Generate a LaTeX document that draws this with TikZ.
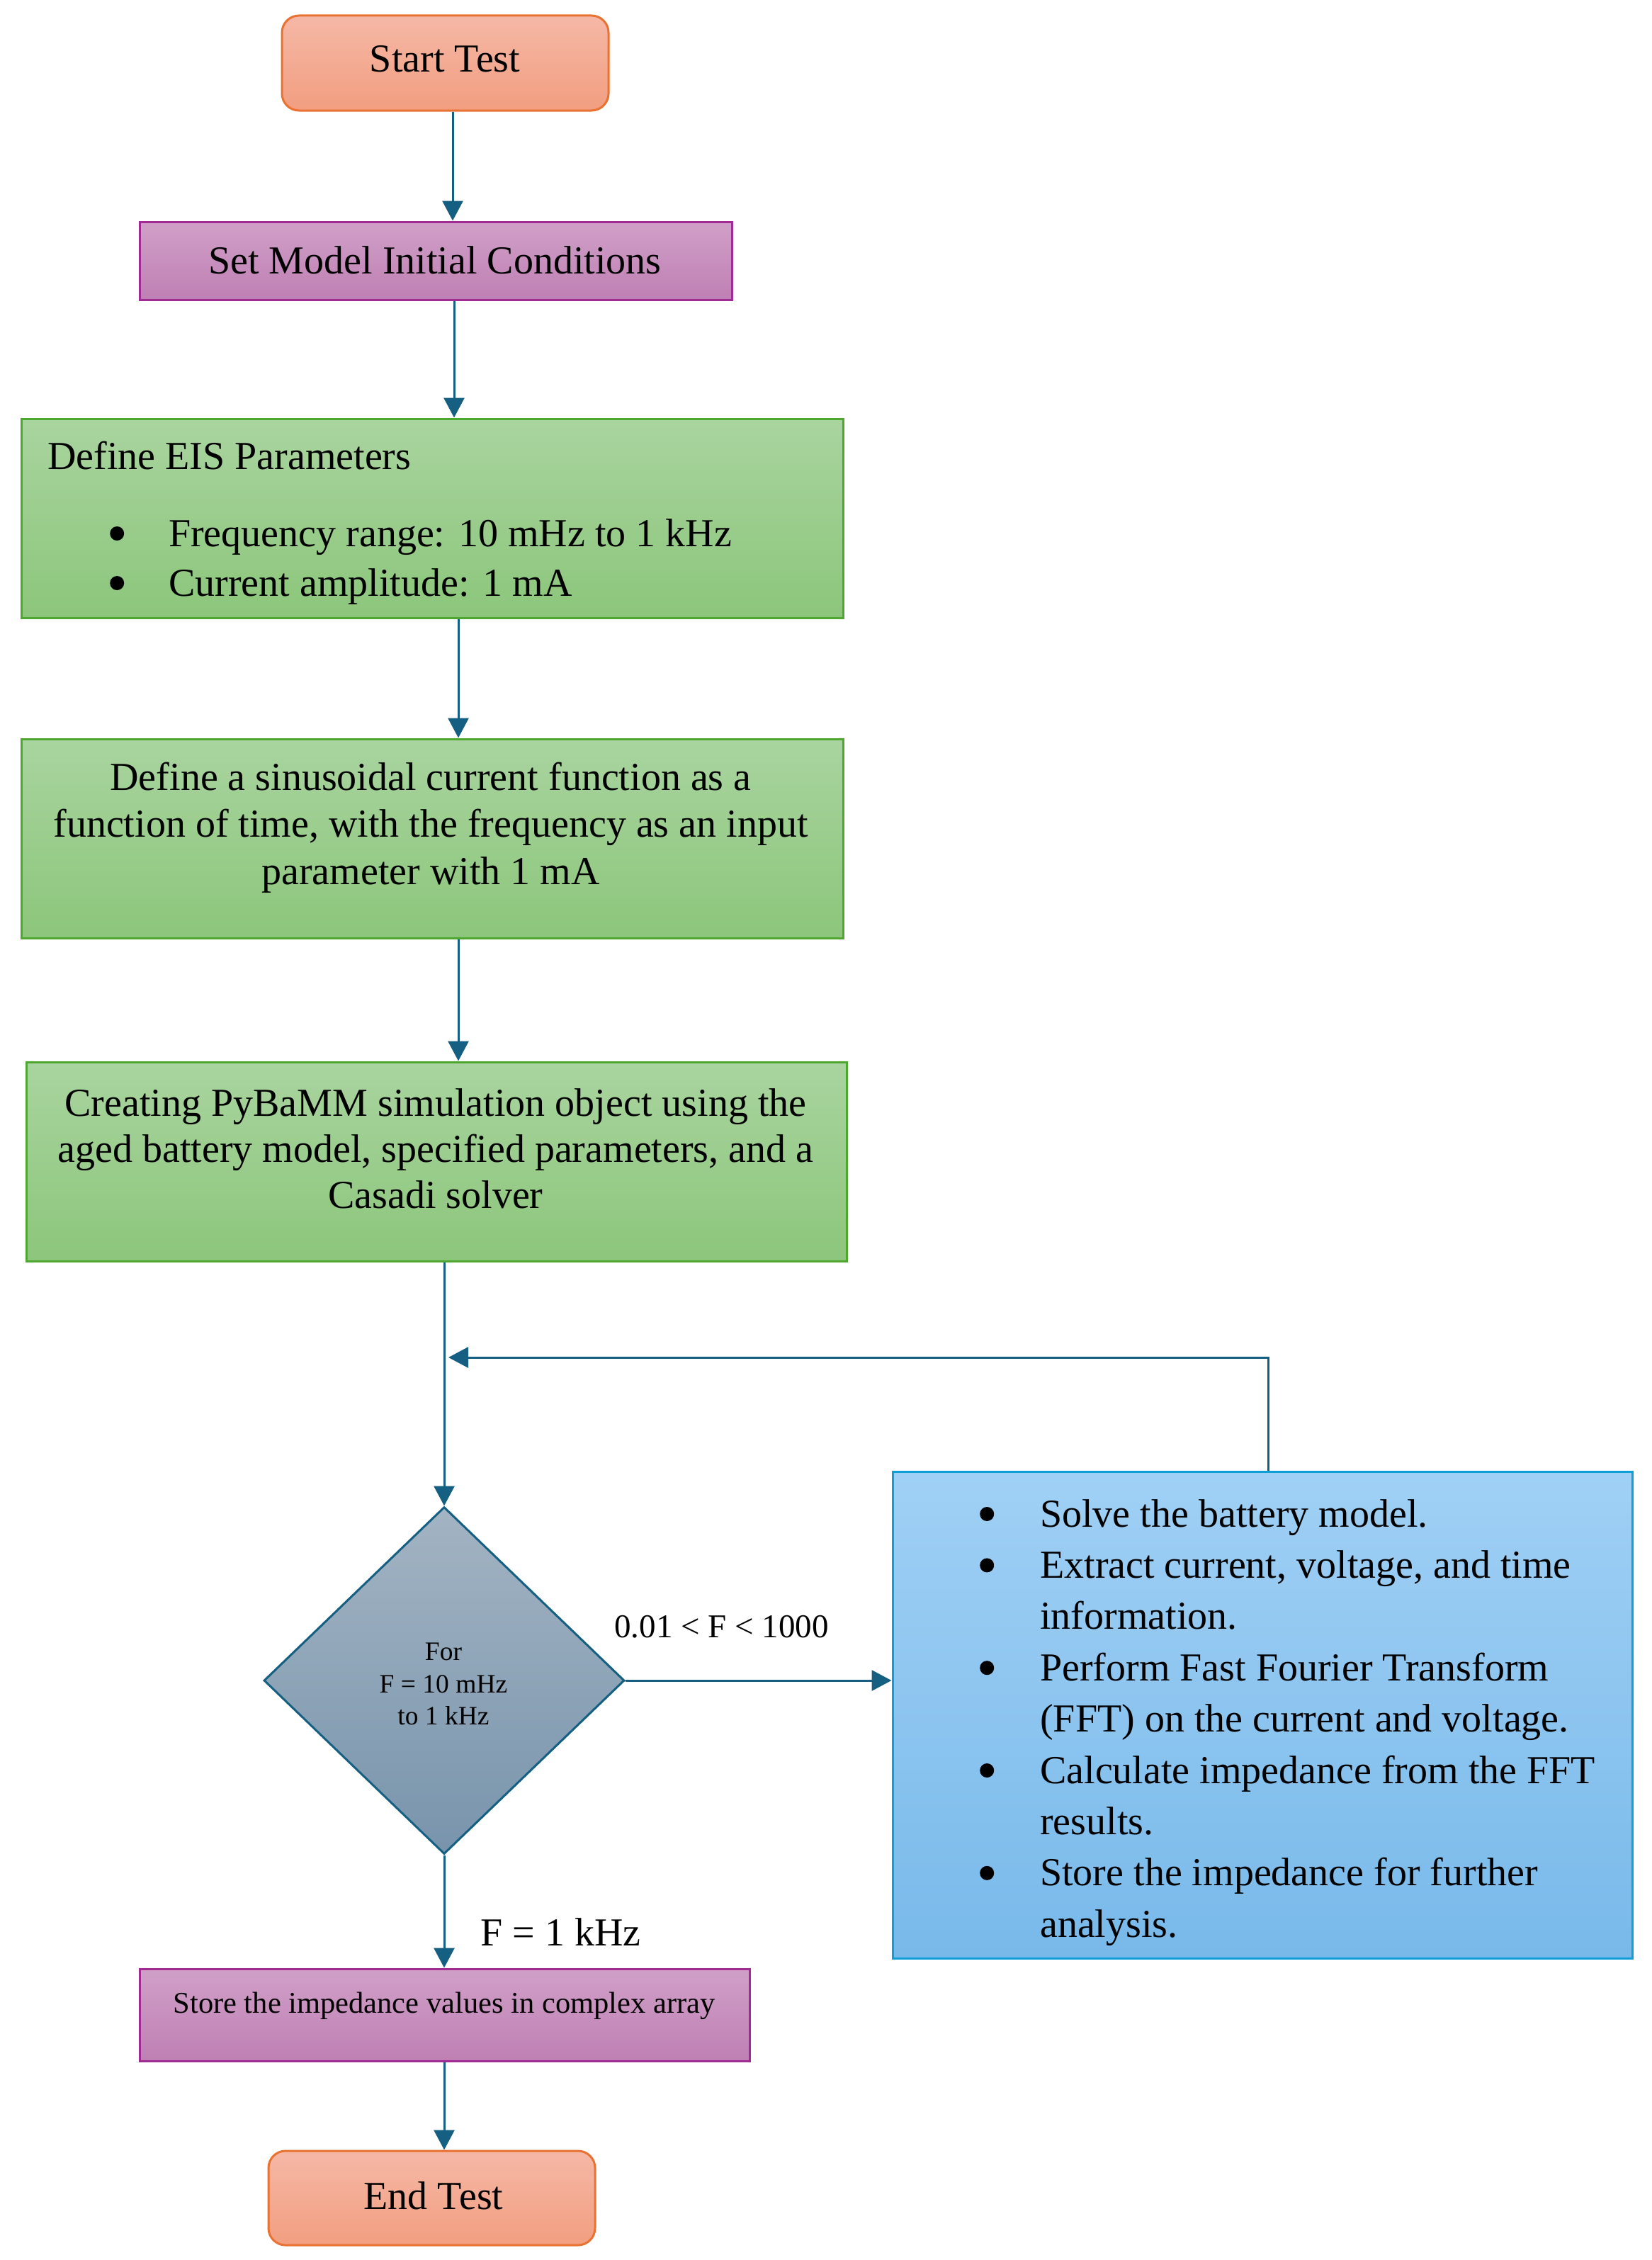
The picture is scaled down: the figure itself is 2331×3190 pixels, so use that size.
\documentclass[tikz,border=0pt]{standalone}
\usepackage{fontspec}
\setmainfont{Liberation Serif}
\usetikzlibrary{shapes.geometric,arrows.meta}
\definecolor{termT}{HTML}{F5B8A6}
\definecolor{termBo}{HTML}{F29E80}
\definecolor{termB}{HTML}{E97132}
\definecolor{purT}{HTML}{D0A0C8}
\definecolor{purBo}{HTML}{BF7FB3}
\definecolor{purB}{HTML}{A02B93}
\definecolor{grnT}{HTML}{A9D49F}
\definecolor{grnBo}{HTML}{8CC67B}
\definecolor{grnB}{HTML}{4EA72E}
\definecolor{diaT}{HTML}{A3B4C3}
\definecolor{diaBo}{HTML}{7894AC}
\definecolor{bluT}{HTML}{A0D0F5}
\definecolor{bluBo}{HTML}{78B9EA}
\definecolor{bluB}{HTML}{0F9ED5}
\definecolor{arrC}{HTML}{156082}
\newcommand\fsmain{\fontsize{56}{66.5}\selectfont}
\newcommand\bigbul{\tikz[baseline={(0pt,-18pt)}]\fill[black] (10pt,0pt) circle[radius=10pt];}
\begin{document}
\begin{tikzpicture}[x=1pt,y=-1pt,
  box/.style={rectangle, line width=3pt, inner sep=0pt},
  termbox/.style={box, rounded corners=24pt, draw=termB, top color=termT, bottom color=termBo},
  purbox/.style={box, draw=purB, top color=purT, bottom color=purBo},
  grnbox/.style={box, draw=grnB, top color=grnT, bottom color=grnBo},
  blubox/.style={box, draw=bluB, top color=bluT, bottom color=bluBo},
  diabox/.style={shape=diamond, line width=3pt, inner sep=0pt, draw=arrC, top color=diaT, bottom color=diaBo},
  txt/.style={inner sep=0pt, text=black},
  arr/.style={draw=arrC, line width=3pt, -{Triangle[width=29pt,length=28pt]}},
  ln/.style={draw=arrC, line width=3pt}]
\useasboundingbox[fill=white] (0,0) rectangle (2331,3190);

% boxes
\node[termbox, minimum width=461pt, minimum height=134pt] (start) at (628.5,89) {};
\node[purbox, minimum width=836pt, minimum height=110pt] (setm) at (615,368) {};
\node[grnbox, minimum width=1160pt, minimum height=281pt] (eis) at (610,731.5) {};
\node[grnbox, minimum width=1160pt, minimum height=281pt] (sin) at (610,1183.5) {};
\node[grnbox, minimum width=1158pt, minimum height=281pt] (pyb) at (616,1639.5) {};
\node[diabox, minimum width=509pt, minimum height=490pt] (dia) at (627,2372) {};
\node[blubox, minimum width=1044pt, minimum height=687pt] (blue) at (1782,2420.5) {};
\node[purbox, minimum width=861pt, minimum height=130pt] (store) at (627.5,2844) {};
\node[termbox, minimum width=461pt, minimum height=133pt] (endt) at (609.5,3102.5) {};

% texts
\node[txt, anchor=base] (starttxt) at (628,102) {\fsmain Start Test};
\node[txt, anchor=base] (setmtxt) at (614,386) {\fsmain Set Model Initial Conditions};
\node[txt, anchor=base west] (eistitle) at (67,662) {\fsmain Define EIS Parameters};
\node[txt, anchor=base west] (eislist) at (155,771) {\fontsize{56}{70}\selectfont
  \begin{tabular}[t]{@{}p{83pt}@{}l@{}}
  \bigbul & Frequency range: 10 mHz to 1 kHz\\
  \bigbul & Current amplitude: 1 mA
  \end{tabular}};
\node[txt, anchor=base] (sintxt) at (608,1115) {\fsmain
  \begin{tabular}[t]{@{}c@{}}
  Define a sinusoidal current function as a\\
  function of time, with the frequency as an input\\
  parameter with 1 mA
  \end{tabular}};
\node[txt, anchor=base] (pybtxt) at (615,1575) {\fontsize{56}{65}\selectfont
  \begin{tabular}[t]{@{}c@{}}
  Creating PyBaMM simulation object using the\\
  aged battery model, specified parameters, and a\\
  Casadi solver
  \end{tabular}};
\node[txt, anchor=base] (diatxt) at (626,2343.5) {\fontsize{37.5}{45.5}\selectfont
  \begin{tabular}[t]{@{}c@{}}
  For\\
  F = 10 mHz\\
  to 1 kHz
  \end{tabular}};
\node[txt, anchor=base west] (blutxt) at (1383,2155) {\fontsize{56}{72.4}\selectfont
  \begin{tabular}[t]{@{}p{85pt}@{}l@{}}
  \bigbul & Solve the battery model.\\
  \bigbul & Extract current, voltage, and time\\
   & information.\\
  \bigbul & Perform Fast Fourier Transform\\
   & (FFT) on the current and voltage.\\
  \bigbul & Calculate impedance from the FFT\\
   & results.\\
  \bigbul & Store the impedance for further\\
   & analysis.
  \end{tabular}};
\node[txt, anchor=base] (storetxt) at (627,2841) {\fontsize{42.5}{50}\selectfont Store the impedance values in complex array};
\node[txt, anchor=base] (endtxt) at (612,3118) {\fsmain End Test};
\node[txt, anchor=base] (lblloop) at (1018.5,2311.5) {\fontsize{47}{56}\selectfont 0.01 {<} F {<} 1000};
\node[txt, anchor=base] (lblend) at (791.5,2746) {\fsmain F = 1 kHz};

% connectors
\coordinate (loopend) at (633,1916);
\draw[arr] (start.south -| 639,0) -- (setm.north -| 639,0);
\draw[arr] (setm.south -| 641,0) -- (eis.north -| 641,0);
\draw[arr] (eis.south -| 647,0) -- (sin.north -| 647,0);
\draw[arr] (sin.south -| 647,0) -- (pyb.north -| 647,0);
\draw[arr] (pyb.south -| 627,0) -- (dia.north);
\draw[arr] (blue.north -| 1790,0) |- (loopend);
\draw[arr] (dia.east) -- (blue.west |- dia.east);
\draw[arr] (dia.south) -- (store.north -| dia.south);
\draw[arr] (store.south -| 627,0) -- (endt.north -| 627,0);
\end{tikzpicture}
\end{document}
